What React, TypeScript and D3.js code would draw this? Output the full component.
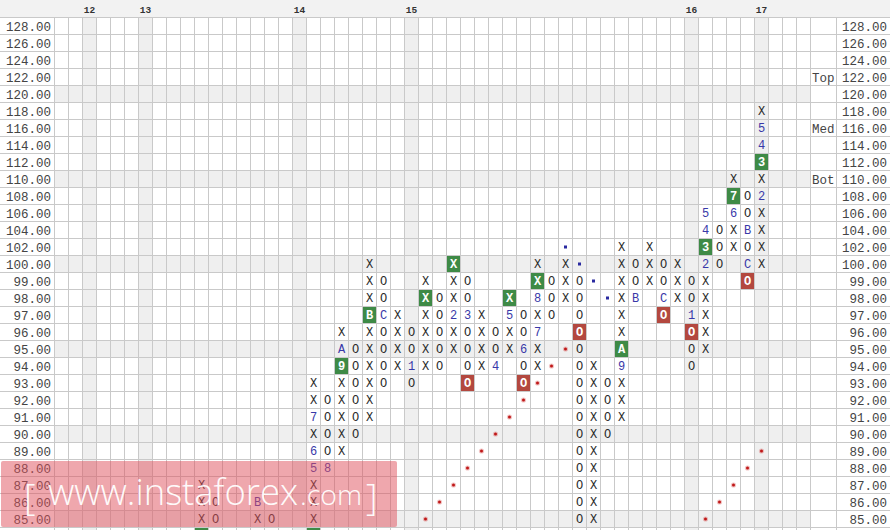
import React from "react";
import * as d3 from "d3";

// ---- data ----
const priceLevels = [128, 126, 124, 122, 120, 118, 116, 114, 112, 110, 108, 106, 104, 102, 100, 99, 98, 97, 96, 95, 94, 93, 92, 91, 90, 89, 88, 87, 86, 85, 84];
const visibleLowest = 85;
const nColumns = 54;
const yearCols = [2, 6, 17, 25, 45, 50];
const yearLabels = ["12", "13", "14", "15", "16", "17"];
const bandPrices = [122, 116, 110];
const bandTexts = ["Top", "Med", "Bot"];

// point & figure columns
const markCols = [10, 11, 14, 15, 18, 19, 20, 21, 22, 23, 24, 25, 26, 27, 28, 29, 30, 31, 32, 33, 34, 35, 36, 37, 38, 39, 40, 41, 42, 43, 44, 45, 46, 47, 48, 49, 50];
const markTypes = ["X", "O", "X", "O", "X", "O", "X", "O", "X", "O", "X", "O", "X", "O", "X", "O", "X", "O", "X", "O", "X", "O", "X", "O", "X", "O", "X", "O", "X", "O", "X", "O", "X", "O", "X", "O", "X"];
const markHighs = [87, 86, 86, 85, 93, 92, 96, 95, 100, 99, 97, 96, 99, 98, 100, 99, 97, 96, 98, 97, 100, 99, 100, 99, 94, 93, 102, 100, 102, 100, 100, 99, 106, 104, 110, 108, 118];
const markLows = [84, 85, 85, 85, 84, 88, 89, 90, 91, 93, 94, 93, 94, 94, 95, 93, 94, 94, 95, 93, 94, 97, 98, 85, 85, 90, 91, 98, 99, 97, 98, 94, 95, 100, 102, 99, 100];

// month markers (plain)
const monthCols = [14, 18, 18, 18, 19, 20, 23, 25, 28, 29, 31, 32, 33, 34, 34, 40, 41, 43, 45, 46, 46, 46, 48, 49, 49, 50, 50, 50];
const monthPrices = [86, 88, 89, 91, 88, 95, 97, 94, 97, 97, 94, 97, 95, 96, 98, 94, 98, 98, 97, 100, 104, 106, 106, 104, 100, 108, 114, 116];
const monthTexts = ["B", "5", "6", "7", "8", "A", "C", "1", "2", "3", "4", "5", "6", "7", "8", "9", "B", "C", "1", "2", "4", "5", "6", "B", "C", "2", "4", "5"];

// green boxes
const greenCols = [10, 18, 20, 22, 26, 28, 32, 34, 40, 46, 48, 50];
const greenPrices = [84, 84, 94, 97, 98, 100, 98, 99, 95, 102, 108, 112];
const greenTexts = ["9", "4", "9", "B", "X", "X", "X", "X", "A", "3", "7", "3"];

// red boxes
const redCols = [29, 33, 37, 43, 45, 49];
const redPrices = [93, 93, 96, 97, 96, 99];
const redTexts = ["O", "O", "O", "O", "O", "O"];

// trend lines
const redDotCols = [26, 27, 28, 29, 30, 31, 32, 33, 34, 35, 36, 46, 47, 48, 49, 50];
const redDotPrices = [85, 86, 87, 88, 89, 90, 91, 92, 93, 94, 95, 85, 86, 87, 88, 89];
const blueDotCols = [36, 37, 38, 39];
const blueDotPrices = [102, 100, 99, 98];

const W = 890;
const H = 530;
const MONO = "'Liberation Mono', 'DejaVu Sans Mono', monospace";

export default function App() {
  const x = d3
    .scaleBand<number>()
    .domain(d3.range(nColumns))
    .range([54, 54 + 14 * nColumns]);
  const y = d3
    .scaleBand<string>()
    .domain(priceLevels.map(String))
    .range([17, 17 + 17 * priceLevels.length]);
  const cw = x.bandwidth();
  const rh = y.bandwidth();
  const gridRight = x.range()[1];
  const bandColRight = gridRight + 26;
  const yp = (p: number) => y(String(p)) as number;
  const cx = (c: number) => (x(c) as number) + cw / 2 + 0.5;
  const cy = (p: number) => yp(p) + rh / 2 + 0.5;
  const shown = (p: number) => p >= visibleLowest;

  const overridden = new Set<string>();
  monthCols.forEach((c, i) => overridden.add(c + "|" + monthPrices[i]));
  greenCols.forEach((c, i) => overridden.add(c + "|" + greenPrices[i]));
  redCols.forEach((c, i) => overridden.add(c + "|" + redPrices[i]));

  const cells: { c: number; p: number; t: string }[] = [];
  markCols.forEach((c, i) => {
    priceLevels.forEach((p) => {
      if (shown(p) && p <= markHighs[i] && p >= markLows[i] && !overridden.has(c + "|" + p)) {
        cells.push({ c, p, t: markTypes[i] });
      }
    });
  });

  const gridTop = 17;

  return (
    <svg
      width={W}
      height={H}
      style={{ position: "absolute", left: 0, top: 0, background: "#fff" }}
      fontFamily={MONO}
    >
      {/* header */}
      <rect x={0} y={0} width={W} height={gridTop} fill="#f2f2f2" />
      {/* shaded rows */}
      {priceLevels.map((p, i) =>
        i % 5 === 4 ? (
          <rect key={"sr" + p} x={54} y={yp(p)} width={gridRight - 54} height={rh} fill="#efefef" />
        ) : null
      )}
      {/* shaded columns */}
      {yearCols.map((c) => (
        <rect key={"sc" + c} x={x(c)} y={gridTop} width={cw} height={H - gridTop} fill="#efefef" />
      ))}
      {/* horizontal grid lines */}
      {priceLevels.map((p) => (
        <line key={"h" + p} x1={0} x2={W} y1={yp(p) + 0.5} y2={yp(p) + 0.5} stroke="#c9c9c9" />
      ))}
      {/* vertical grid lines */}
      {d3.range(nColumns + 1).map((i) => {
        const xx = 54 + 14 * i + 0.5;
        return <line key={"v" + i} x1={xx} x2={xx} y1={gridTop} y2={H} stroke="#c9c9c9" />;
      })}
      <line x1={bandColRight + 0.5} x2={bandColRight + 0.5} y1={gridTop} y2={H} stroke="#c9c9c9" />

      {/* year labels */}
      {yearCols.map((c, i) => (
        <text key={"yl" + c} x={cx(c)} y={12.5} textAnchor="middle" fontSize={9.5} fontWeight="bold" fill="#333">
          {yearLabels[i]}
        </text>
      ))}

      {/* price labels */}
      {priceLevels.filter(shown).map((p) => (
        <g key={"pl" + p}>
          <text x={51} y={cy(p)} dy="0.36em" textAnchor="end" fontSize={12.5} fill="#444">
            {p.toFixed(2)}
          </text>
          <text x={887} y={cy(p)} dy="0.36em" textAnchor="end" fontSize={12.5} fill="#444">
            {p.toFixed(2)}
          </text>
        </g>
      ))}
      {bandPrices.map((p, i) => (
        <text key={"bl" + p} x={gridRight + 2} y={cy(p)} dy="0.36em" fontSize={12.5} fill="#444">
          {bandTexts[i]}
        </text>
      ))}

      {/* X / O cells */}
      {cells.map((d) => (
        <text key={"c" + d.c + "_" + d.p} x={cx(d.c)} y={cy(d.p)} dy="0.36em" textAnchor="middle" fontSize={12} fill="#2a2a2a">
          {d.t}
        </text>
      ))}

      {/* month markers */}
      {monthCols.map((c, i) => (
        <text key={"m" + i} x={cx(c)} y={cy(monthPrices[i])} dy="0.36em" textAnchor="middle" fontSize={12} fill="#3838a8">
          {monthTexts[i]}
        </text>
      ))}

      {/* green boxes */}
      {greenCols.map((c, i) => (
        <g key={"g" + i}>
          <rect x={(x(c) as number) + 1} y={yp(greenPrices[i]) + 1} width={cw - 1} height={rh - 1} fill="#3e8a46" />
          {shown(greenPrices[i]) ? (
            <text x={cx(c)} y={cy(greenPrices[i])} dy="0.36em" textAnchor="middle" fontSize={12} fontWeight="bold" fill="#fff">
              {greenTexts[i]}
            </text>
          ) : null}
        </g>
      ))}

      {/* red boxes */}
      {redCols.map((c, i) => (
        <g key={"r" + i}>
          <rect x={(x(c) as number) + 1} y={yp(redPrices[i]) + 1} width={cw - 1} height={rh - 1} fill="#b3483f" />
          <text x={cx(c)} y={cy(redPrices[i])} dy="0.36em" textAnchor="middle" fontSize={12} fontWeight="bold" fill="#fff">
            {redTexts[i]}
          </text>
        </g>
      ))}

      {/* trend dots */}
      {redDotCols.map((c, i) => (
        <g key={"rd" + i}>
          <circle cx={cx(c)} cy={cy(redDotPrices[i])} r={2.6} fill="#d23a3a" opacity={0.3} />
          <circle cx={cx(c)} cy={cy(redDotPrices[i])} r={1.5} fill="#c01818" />
        </g>
      ))}
      {blueDotCols.map((c, i) => (
        <rect key={"bd" + i} x={cx(c) - 1.5} y={cy(blueDotPrices[i]) - 1.5} width={3} height={3} fill="#2a2aa0" />
      ))}

      {/* watermark */}
      <g>
        <rect x={1} y={461} width={396} height={66} rx={2} fill="#e0505b" opacity={0.5} />
        <text x={24} y={510} fontFamily="'Open Sans', 'Noto Sans', sans-serif" fontWeight={300} fontSize={36} fill="#fff" opacity={0.95}>
          [
        </text>
        <text x={48} y={505} fontFamily="'Open Sans', 'Noto Sans', sans-serif" fontWeight={300} fontSize={37} fill="#fff" opacity={0.95} textLength={250} lengthAdjust="spacingAndGlyphs">
          www.instaforex
        </text>
        <text x={300} y={505} fontFamily="'Open Sans', 'Noto Sans', sans-serif" fontWeight={300} fontSize={27} fill="#fff" opacity={0.95} textLength={62} lengthAdjust="spacingAndGlyphs">
          .com
        </text>
        <text x={366} y={510} fontFamily="'Open Sans', 'Noto Sans', sans-serif" fontWeight={300} fontSize={36} fill="#fff" opacity={0.95}>
          ]
        </text>
      </g>
    </svg>
  );
}
